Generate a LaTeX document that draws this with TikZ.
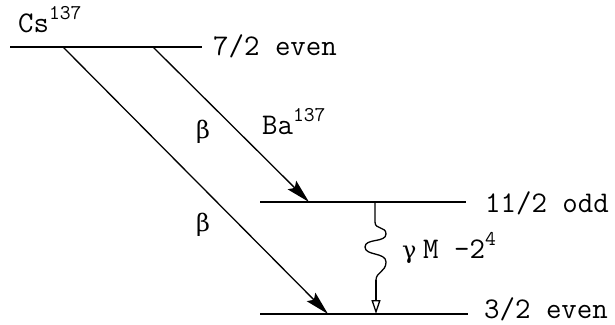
\documentclass[tikz,border=0pt]{standalone}
\usepackage{fontspec}
\newfontfamily\grk{DejaVu Serif}
\usetikzlibrary{arrows.meta}
\newcommand\mysup[1]{\raisebox{0.42em}{\scalebox{0.7}{#1}}}
\begin{document}
\begin{tikzpicture}[x=1pt,y=-1pt,
  lvl/.style={line width=1.5pt},
  lab/.style={font=\ttfamily\fontsize{30}{34}\selectfont, inner sep=0pt, anchor=base west},
  glab/.style={font=\grk\fontsize{24}{28}\selectfont, inner sep=0pt, anchor=base west},
  beta/.style={line width=1.3pt, -{Stealth[length=24pt,width=12pt,inset=4pt]}},
]
\useasboundingbox (0,0) rectangle (615,324);
% levels
\coordinate (a1) at (10,47); \coordinate (a2) at (202,47);
\coordinate (b1) at (260,202); \coordinate (b2) at (466,202);
\coordinate (c1) at (260,314); \coordinate (c2) at (468,314);
\draw[lvl] (a1) -- (a2);
\draw[lvl] (b1) -- (b2);
\draw[lvl] (c1) -- (c2);
% labels
\node[lab] (cs) at (18,32) {Cs\mysup{137}};
\node[lab] (s1) at (213,55) {7/2 even};
\node[lab] (s2) at (485,212) {11/2 odd};
\node[lab] (s3) at (484,318) {3/2 even};
\node[lab] (ba) at (262,134) {Ba\mysup{137}};
\node[glab] (be1) at (196,138) {β};
\node[glab] (be2) at (196,231) {β};
\node[glab] (g) at (402,258) {γ};
\node[lab] (gm) at (423,258) {M -2\mysup{4}};
% beta transitions
\coordinate (p1) at (63,47); \coordinate (q1) at (328,314);
\coordinate (p2) at (153,47); \coordinate (q2) at (309,202);
\draw[beta] (p1) -- (q1);
\draw[beta] (p2) -- (q2);
% gamma
\coordinate (g1) at (375,202); \coordinate (g2) at (376,280); \coordinate (g3) at (376,314);
\draw[line width=1.3pt] (g1) -- (375,222)
  .. controls (375,230) and (386,226) .. (386,234)
  .. controls (386,243) and (365,238) .. (365,247)
  .. controls (365,256) and (386,252) .. (386,262)
  .. controls (386,272) and (376,272) .. (g2);
\draw[line width=1.3pt, -{Triangle[open,length=14pt,width=9pt]}] (g2) -- (g3);
\end{tikzpicture}
\end{document}
